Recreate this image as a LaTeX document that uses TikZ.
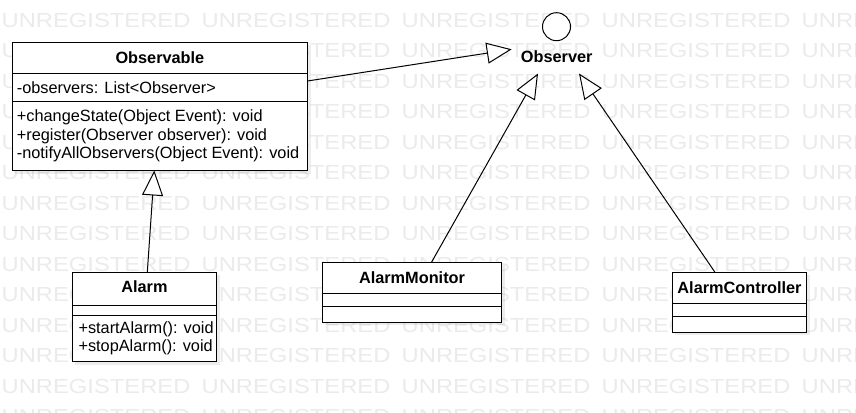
\documentclass[tikz,border=0pt]{standalone}
\usepackage{fontspec}
\setmainfont{Liberation Sans}
\usetikzlibrary{arrows.meta,calc}
\tikzset{
  wm/.style={inner sep=0pt, outer sep=0pt, text=black!8, font=\fontsize{20.3}{21}\selectfont},
  classbox/.style={draw=black, line width=1pt, fill=white, inner sep=0pt, outer sep=0pt},
  shadowbox/.style={fill=black, opacity=0.07, draw=none, inner sep=0pt, outer sep=0pt},
  sep/.style={draw=black, line width=1pt},
  title/.style={inner sep=0pt, anchor=base, font=\fontsize{16.3}{18.3}\selectfont\bfseries},
  member/.style={inner sep=0pt, anchor=base west, font=\fontsize{16.3}{18.3}\selectfont},
  inherit/.style={line width=1pt, -{Triangle[open, fill=white, length=25pt, width=21pt]}},
}
\begin{document}
\begin{tikzpicture}[x=1pt,y=-1pt]
\useasboundingbox (0,0) rectangle (856,412);
\fill[white] (0,0) rectangle (856,412);
% watermark
\begin{scope}
\clip (0,0) rectangle (856,412);
\foreach \r in {0,...,13}{
  \foreach \c in {0,...,4}{
    \node[wm, anchor=base west] (wm-\r-\c) at (1.7+200*\c, 27.3+30.5*\r) {\scalebox{1.17}[1]{UNREGISTERED}};
  }
}
\end{scope}

% shadows
\node[shadowbox, minimum width=295.2pt, minimum height=128pt] (shObservable) at (162.9,109.5) {};
\node[shadowbox, minimum width=144.2pt, minimum height=89.4pt] (shAlarm) at (147.4,320) {};
\node[shadowbox, minimum width=179.4pt, minimum height=60pt] (shMonitor) at (415,295.3) {};
\node[shadowbox, minimum width=134.4pt, minimum height=60pt] (shController) at (742.5,305.3) {};

% Observable
\node[classbox, minimum width=295.2pt, minimum height=128pt] (observable) at (159.9,106.5) {};
\draw[sep] (observable.west |- 0,73.3) -- (observable.east |- 0,73.3);
\draw[sep] (observable.west |- 0,101.7) -- (observable.east |- 0,101.7);
\node[title] (observableT) at (159.9,63.3) {Observable};
\node[member] (observableA) at (16.7,93.3) {-observers: List<Observer>};
\node[member] (observableM1) at (16.7,121.7) {+changeState(Object Event): void};
\node[member] (observableM2) at (16.7,140) {+register(Observer observer): void};
\node[member] (observableM3) at (16.7,158.3) {-notifyAllObservers(Object Event): void};

% Alarm
\node[classbox, minimum width=144.2pt, minimum height=89.4pt] (alarm) at (144.4,317) {};
\draw[sep] (alarm.west |- 0,305) -- (alarm.east |- 0,305);
\draw[sep] (alarm.west |- 0,315) -- (alarm.east |- 0,315);
\node[title] (alarmT) at (144.4,292.7) {Alarm};
\node[member] (alarmM1) at (78.3,333.5) {+startAlarm(): void};
\node[member] (alarmM2) at (78.3,351.8) {+stopAlarm(): void};

% AlarmMonitor
\node[classbox, minimum width=179.4pt, minimum height=60pt] (monitor) at (412,292.3) {};
\draw[sep] (monitor.west |- 0,293.3) -- (monitor.east |- 0,293.3);
\draw[sep] (monitor.west |- 0,306.7) -- (monitor.east |- 0,306.7);
\node[title] (monitorT) at (412,283.3) {AlarmMonitor};

% AlarmController
\node[classbox, minimum width=134.4pt, minimum height=60pt] (controller) at (739.5,302.3) {};
\draw[sep] (controller.west |- 0,303.3) -- (controller.east |- 0,303.3);
\draw[sep] (controller.west |- 0,316.7) -- (controller.east |- 0,316.7);
\node[title] (controllerT) at (739.5,293.3) {AlarmController};

% Observer interface (lollipop)
\node[circle, draw=black, line width=1pt, fill=white, minimum size=28pt, inner sep=0pt] (observerC) at (556.5,26.7) {};
\node[minimum width=90pt, minimum height=33pt, inner sep=0pt, outer sep=0pt] (observer) at (556.7,57) {};
\node[title] (observerT) at (556.7,62.7) {Observer};

% connectors
\draw[inherit] ([yshift=25.5pt]observable.east) -- ([yshift=7.7pt]observer.west);
\draw[inherit] ([xshift=2.9pt]alarm.north) -- ([xshift=-5.6pt]observable.south);
\draw[inherit] ([xshift=19.5pt]monitor.north) -- ([xshift=-18.7pt]observer.south);
\draw[inherit] ([xshift=-24.5pt]controller.north) -- ([xshift=22.3pt]observer.south);
\end{tikzpicture}
\end{document}
